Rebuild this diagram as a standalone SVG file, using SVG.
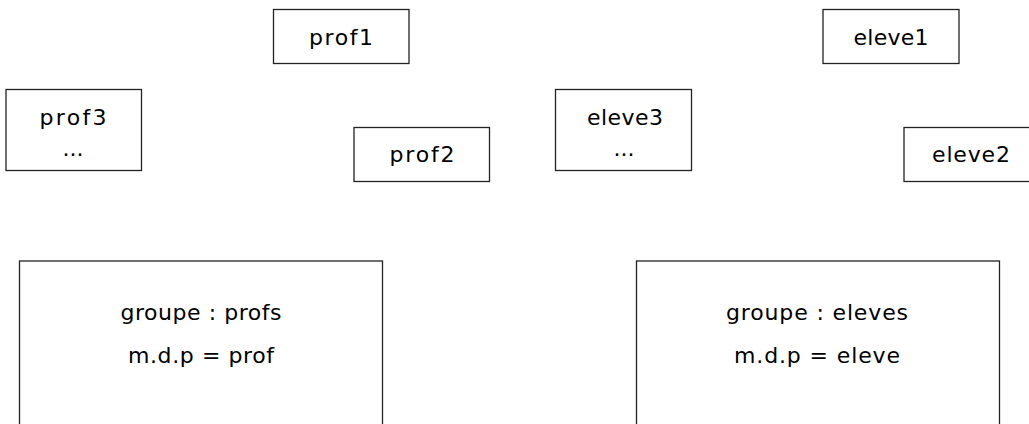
<svg xmlns="http://www.w3.org/2000/svg" width="1029" height="424" viewBox="0 0 1029 424">
<style>
rect{fill:#fff;stroke:#222;stroke-width:1.3}
text{font-family:"DejaVu Sans","Noto Sans",sans-serif;font-size:22px;fill:#000;text-anchor:middle}
</style>
<rect x="0" y="0" width="1029" height="424" style="stroke:none"/>
<g id="prof1"><rect x="273.5" y="9.5" width="135.5" height="54"/><text x="341" y="45" textLength="64" lengthAdjust="spacing">prof1</text></g>
<g id="prof3"><rect x="6" y="89.5" width="135.5" height="81"/><text x="73" y="125" textLength="67" lengthAdjust="spacing">prof3</text><text x="73" y="156">...</text></g>
<g id="prof2"><rect x="354" y="127.5" width="135.5" height="54"/><text x="422" y="162" textLength="65" lengthAdjust="spacing">prof2</text></g>
<g id="eleve3"><rect x="555.5" y="89.5" width="136" height="81"/><text x="625" y="125" textLength="76" lengthAdjust="spacing">eleve3</text><text x="624" y="156">...</text></g>
<g id="eleve1"><rect x="823" y="9.5" width="136" height="54"/><text x="891" y="45" textLength="75" lengthAdjust="spacing">eleve1</text></g>
<g id="eleve2"><rect x="904" y="127.5" width="136" height="54"/><text x="971" y="162" textLength="78" lengthAdjust="spacing">eleve2</text></g>
<g id="groupe_profs"><rect x="19.5" y="261" width="363" height="180"/><text x="201" y="320" textLength="161" lengthAdjust="spacing">groupe : profs</text><text x="201" y="363" textLength="146" lengthAdjust="spacing">m.d.p = prof</text></g>
<g id="groupe_eleves"><rect x="636.5" y="261" width="363" height="180"/><text x="817" y="320" textLength="182" lengthAdjust="spacing">groupe : eleves</text><text x="817" y="363" textLength="166" lengthAdjust="spacing">m.d.p = eleve</text></g>
<g id="connectors"></g>
</svg>
